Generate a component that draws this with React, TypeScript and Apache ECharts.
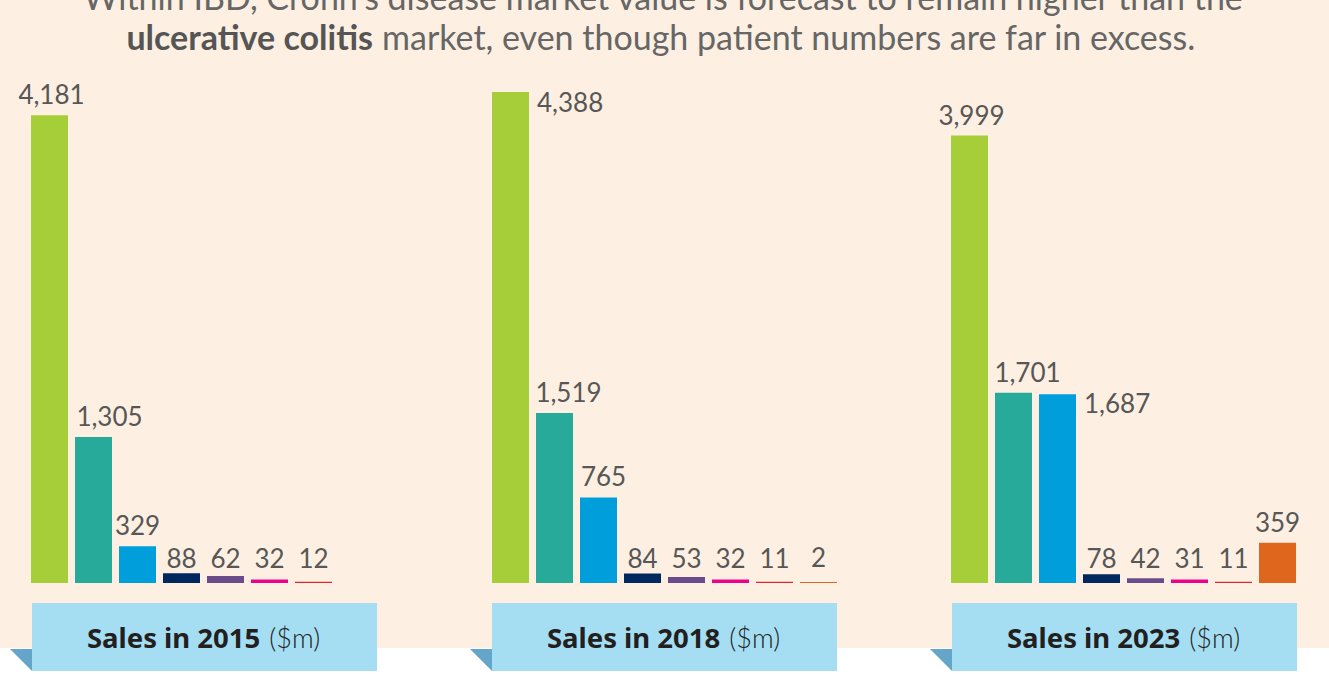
import { useEffect, useRef } from "react";
import * as echarts from "echarts";

const segments = ["Segment 1", "Segment 2", "Segment 3", "Segment 4", "Segment 5", "Segment 6", "Segment 7", "Segment 8"];
const segmentColors = ["#a6ce39", "#27aa99", "#009edb", "#00285e", "#6b4c8b", "#ec008c", "#e1262d", "#de661d"];
const years = ["2015", "2018", "2023"];
const sales2015 = [4181, 1305, 329, 88, 62, 32, 12];
const sales2018 = [4388, 1519, 765, 84, 53, 32, 11, 2];
const sales2023 = [3999, 1701, 1687, 78, 42, 31, 11, 359];
const titleLine1 = "Within IBD, Crohn's disease market value is forecast to remain higher than the";
const titleBold = "ulcerative colitis";
const titleRest = " market, even though patient numbers are far in excess.";

const W = 1329;
const H = 674;
const GRID_TOP = 92;
const GRID_H = 491;
const Y_MAX = 4388;
const PX_PER_UNIT = GRID_H / Y_MAX;
const BAND = 44;
const grids = [
  { left: 27.5, count: 7 },
  { left: 488.5, count: 8 },
  { left: 947.5, count: 8 },
];
const boxes = [32, 492, 952];
const BOX_W = 345;
const LABEL_FONT = "Lato, 'Noto Sans', sans-serif";

export default function App() {
  const ref = useRef<HTMLDivElement>(null);
  useEffect(() => {
    if (!ref.current) return;
    const chart = echarts.init(ref.current, undefined, { renderer: "svg" });
    const allData = [sales2015, sales2018, sales2023];

    const labelFor = (g: number, j: number, v: number): any => {
      if ((g === 1 && j === 0) || (g === 2 && j === 2)) {
        return { position: [45, g === 1 ? -3 : -4], align: "left", verticalAlign: "top" };
      }
      let dx = 0;
      if (j === 1) dx = g === 0 ? 16 : 14;
      if (g === 1 && j === 2) dx = 5;
      if (g === 0 && j === 0) dx = 2;
      if (g === 2 && j === 0) dx = 2;
      let dy = 0;
      if (v < 100) dy = v * PX_PER_UNIT - 4;
      return { offset: [dx, dy] };
    };

    const graphic: any[] = [
      { type: "rect", z: -10, shape: { x: 0, y: 648, width: W, height: H - 648 }, style: { fill: "#ffffff" } },
      {
        type: "text",
        x: 663,
        y: -4,
        style: {
          text: titleLine1,
          fontSize: 34,
          fontFamily: LABEL_FONT,
          fill: "#666666",
          align: "center",
          verticalAlign: "middle",
        },
      },
      {
        type: "text",
        x: 661,
        y: 36,
        style: {
          text: "{b|" + titleBold + "}{r|" + titleRest + "}",
          align: "center",
          verticalAlign: "middle",
          rich: {
            b: { fontSize: 34, fontWeight: "bold", fontFamily: LABEL_FONT, fill: "#555555" },
            r: { fontSize: 34, fontFamily: LABEL_FONT, fill: "#666666" },
          },
        },
      },
    ];
    boxes.forEach((x, i) => {
      graphic.push({
        type: "polygon",
        shape: { points: [[x - 22, 649], [x, 649], [x, 671]] },
        style: { fill: "#66a5ca" },
      });
      graphic.push({
        type: "rect",
        shape: { x, y: 603, width: BOX_W, height: 68 },
        style: { fill: "#a5def3" },
      });
      graphic.push({
        type: "text",
        x: x + BOX_W / 2 - 1,
        y: 637,
        style: {
          text: "{b|Sales in " + years[i] + "}{s| }{l|($m)}",
          align: "center",
          verticalAlign: "middle",
          rich: {
            b: { fontSize: 27.5, fontWeight: "bold", fontFamily: "'Noto Sans', sans-serif", fill: "#231f20" },
            s: { fontSize: 27, width: 9 },
            l: { fontSize: 27, fontWeight: 300, fontFamily: LABEL_FONT, fill: "#231f20" },
          },
        },
      });
    });

    const option: any = {
      animation: false,
      backgroundColor: "#fdf0e2",
      grid: grids.map((g) => ({ left: g.left, top: GRID_TOP, width: g.count * BAND, height: GRID_H })),
      xAxis: grids.map((g, i) => ({
        type: "category",
        gridIndex: i,
        data: segments.slice(0, g.count),
        show: false,
      })),
      yAxis: grids.map((_, i) => ({ type: "value", gridIndex: i, min: 0, max: Y_MAX, show: false })),
      series: allData.map((vals, g) => ({
        type: "bar",
        name: "Sales in " + years[g] + " ($m)",
        xAxisIndex: g,
        yAxisIndex: g,
        barWidth: 37,
        barMinHeight: 1,
        label: {
          show: true,
          position: "top",
          distance: 8,
          fontSize: 26,
          fontFamily: LABEL_FONT,
          color: "#575757",
          formatter: (p: any) => Number(p.value).toLocaleString("en-US"),
        },
        data: vals.map((v, j) => ({
          value: v,
          itemStyle: { color: segmentColors[j] },
          label: labelFor(g, j, v),
        })),
      })),
      graphic,
    };
    chart.setOption(option);
    return () => chart.dispose();
  }, []);
  return (
    <div
      ref={ref}
      style={{ position: "fixed", left: 0, top: 0, width: W, height: H }}
    />
  );
}
